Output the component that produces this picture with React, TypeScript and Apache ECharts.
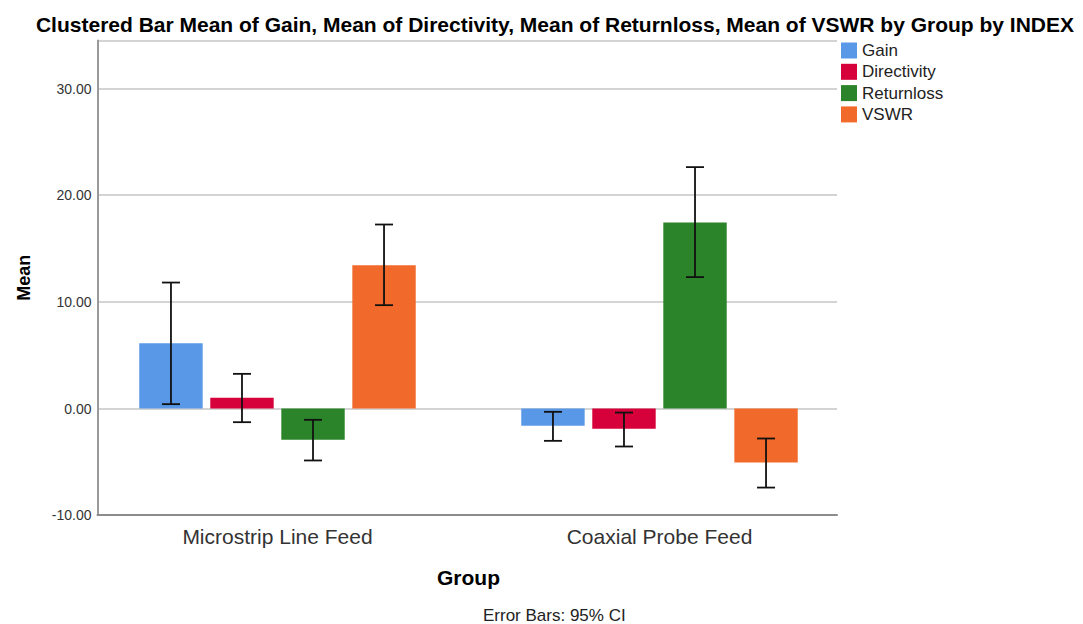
import React, { useEffect, useRef } from "react";
import * as echarts from "echarts";

const categories = ["Microstrip Line Feed", "Coaxial Probe Feed"];
const seriesNames = ["Gain", "Directivity", "Returnloss", "VSWR"];
const colors = ["#5898e6", "#d6003a", "#2b8429", "#f26a2b"];

const gainMean = [6.13, -1.62];
const directivityMean = [1.0, -1.9];
const returnlossMean = [-2.93, 17.44];
const vswrMean = [13.44, -5.06];

const gainCI = [[0.41, 11.81], [-3.03, -0.31]];
const directivityCI = [[-1.28, 3.25], [-3.56, -0.38]];
const returnlossCI = [[-4.87, -1.06], [12.32, 22.63]];
const vswrCI = [[9.69, 17.25], [-7.41, -2.81]];

const yTicks = [-10, 0, 10, 20, 30];

const BAR_FRAC = 0.166;
const GAP_FRAC = 0.12;
const FONT = "Liberation Sans, Arial, sans-serif";

export default function App() {
  const ref = useRef<HTMLDivElement>(null);
  useEffect(() => {
    if (!ref.current) return;
    const chart = echarts.init(ref.current, undefined, { renderer: "svg" });
    const means = [gainMean, directivityMean, returnlossMean, vswrMean];
    const cis = [gainCI, directivityCI, returnlossCI, vswrCI];
    const errData: number[][] = [];
    cis.forEach((ci, si) => {
      ci.forEach((pair, ci2) => {
        errData.push([ci2, si, pair[0], pair[1]]);
      });
    });
    const yMin = -10;
    const yMax = 34.5;
    const gridBase = { top: 40.5, bottom: 108.8 };
    const option: any = {
      animation: false,
      backgroundColor: "#ffffff",
      title: {
        text: "Clustered Bar Mean of Gain, Mean of Directivity, Mean of Returnloss, Mean of VSWR by Group by INDEX",
        left: 555,
        textAlign: "center",
        top: 14,
        padding: 0,
        textStyle: { fontFamily: FONT, fontSize: 21, fontWeight: "bold", color: "#000" },
      },
      legend: {
        orient: "vertical",
        left: 841,
        top: 42,
        padding: 0,
        itemWidth: 16,
        itemHeight: 16,
        itemGap: 4.3,
        icon: "rect",
        data: seriesNames,
        textStyle: { fontFamily: FONT, fontSize: 17, color: "#222" },
      },
      grid: [
        { left: 97.5, right: 1083 - 837, ...gridBase },
        { left: 86.5, width: 764, ...gridBase },
      ],
      xAxis: [
        {
          type: "category",
          gridIndex: 0,
          data: categories,
          axisLine: { onZero: false, lineStyle: { color: "#8c8c8c", width: 2 } },
          axisTick: { show: false },
          axisLabel: { show: false },
        },
        {
          type: "category",
          gridIndex: 1,
          data: categories,
          axisLine: { show: false, onZero: false },
          axisTick: { show: false },
          axisLabel: {
            margin: 11,
            fontFamily: FONT,
            fontSize: 21,
            color: "#333",
          },
          name: "Group",
          nameLocation: "middle",
          nameGap: 52,
          nameTextStyle: { fontFamily: FONT, fontSize: 21, fontWeight: "bold", color: "#000" },
        },
      ],
      yAxis: [
        {
          type: "value",
          gridIndex: 0,
          min: yMin,
          max: yMax,
          interval: 10,
          axisLine: { show: true, lineStyle: { color: "#9a9a9a", width: 2 } },
          axisTick: { show: false },
          splitLine: { lineStyle: { color: "#d4d4d4", width: 2 } },
          axisLabel: {
            margin: 6,
            fontFamily: FONT,
            fontSize: 14,
            color: "#333",
            formatter: (v: number) => (yTicks.indexOf(v) >= 0 ? v.toFixed(2) : ""),
          },
          name: "Mean",
          nameLocation: "middle",
          nameGap: 65,
          nameRotate: 90,
          nameTextStyle: { fontFamily: FONT, fontSize: 18, fontWeight: "bold", color: "#000" },
        },
        {
          type: "value",
          gridIndex: 1,
          min: yMin,
          max: yMax,
          interval: 10,
          show: false,
          splitLine: { show: false },
        },
      ],
      series: [
        ...seriesNames.map((name, i) => ({
          name,
          type: "bar",
          xAxisIndex: 1,
          yAxisIndex: 1,
          barWidth: BAR_FRAC * 100 + "%",
          barGap: GAP_FRAC * 100 + "%",
          data: means[i],
          itemStyle: { color: colors[i] },
        })),
        {
          type: "custom",
          name: "CI",
          xAxisIndex: 1,
          yAxisIndex: 1,
          data: errData,
          encode: { x: 0, y: [2, 3] },
          z: 5,
          renderItem: (params: any, api: any) => {
            const cat = api.value(0);
            const si = api.value(1);
            const lo = api.value(2);
            const hi = api.value(3);
            const catW = api.size([1, 0])[0];
            const bw = catW * BAR_FRAC;
            const gap = bw * GAP_FRAC;
            const cx = api.coord([cat, 0])[0] + (si - 1.5) * (bw + gap);
            const yh = api.coord([cat, hi])[1];
            const yl = api.coord([cat, lo])[1];
            const cap = 9;
            const style = { stroke: "#111", lineWidth: 1.8 };
            return {
              type: "group",
              children: [
                { type: "line", shape: { x1: cx, y1: yh, x2: cx, y2: yl }, style },
                { type: "line", shape: { x1: cx - cap, y1: yh, x2: cx + cap, y2: yh }, style },
                { type: "line", shape: { x1: cx - cap, y1: yl, x2: cx + cap, y2: yl }, style },
              ],
            };
          },
        },
      ],
      graphic: [
        {
          type: "text",
          left: 483,
          top: 607,
          style: {
            text: "Error Bars: 95% CI",
            fontFamily: FONT,
            fontSize: 17,
            fill: "#222",
          },
        },
      ],
    };
    chart.setOption(option);
    return () => chart.dispose();
  }, []);
  return (
    <div
      ref={ref}
      style={{ position: "fixed", left: 0, top: 0, width: 1083, height: 624 }}
    />
  );
}
